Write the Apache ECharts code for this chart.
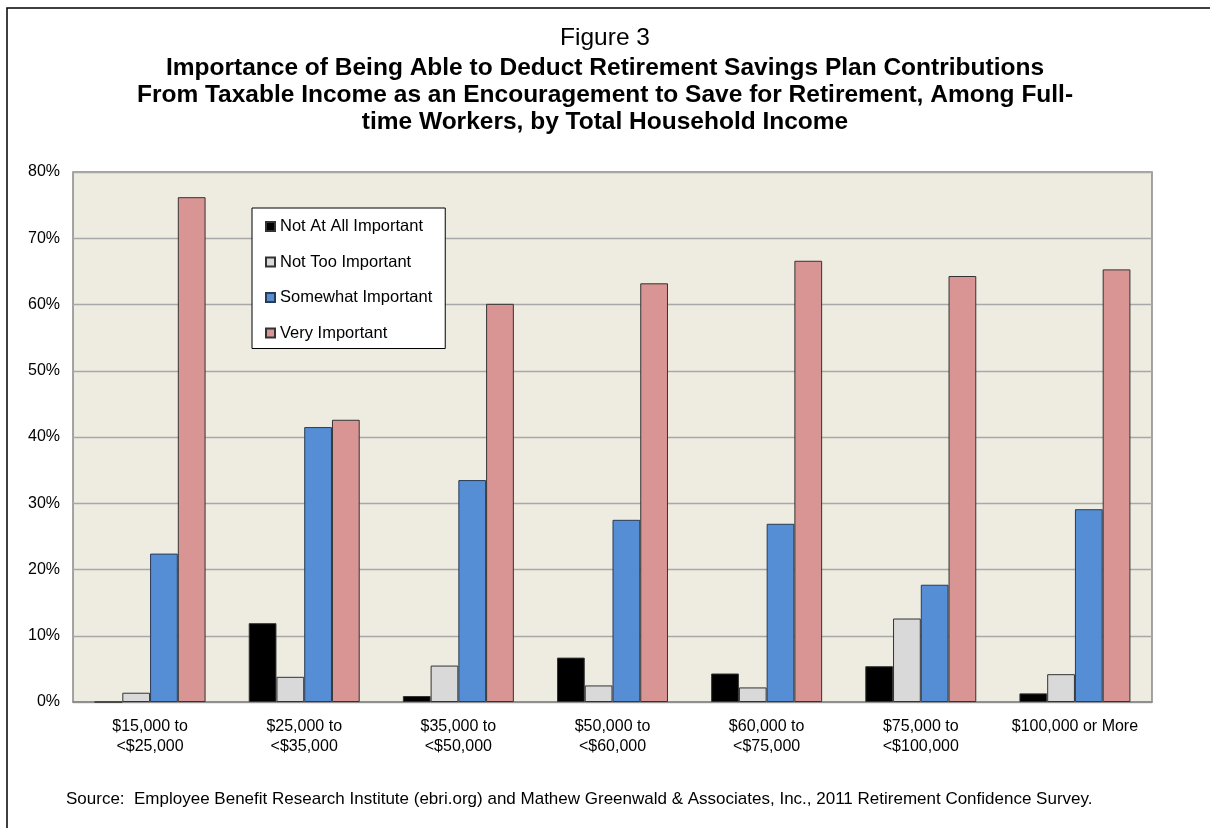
<!DOCTYPE html>
<html><head><meta charset="utf-8">
<script src="https://cdn.jsdelivr.net/npm/echarts@6/dist/echarts.min.js"></script>
<style>html,body{margin:0;padding:0;background:#fff}#c{width:1210px;height:828px}</style>
</head><body><div id="c"></div>
<script>
const categories = ['$15,000 to\n<$25,000','$25,000 to\n<$35,000','$35,000 to\n<$50,000','$50,000 to\n<$60,000','$60,000 to\n<$75,000','$75,000 to\n<$100,000','$100,000 or More'];
const notAtAll = [0, 11.9, 0.9, 6.7, 4.3, 5.4, 1.3];
const notToo = [1.4, 3.8, 5.5, 2.5, 2.2, 12.6, 4.2];
const somewhat = [22.4, 41.5, 33.5, 27.5, 26.9, 17.7, 29.1];
const very = [76.2, 42.6, 60.1, 63.2, 66.6, 64.3, 65.3];
const seriesNames = ['Not At All Important','Not Too Important','Somewhat Important','Very Important'];
const figureLabel = 'Figure 3';
const titleText = 'Importance of Being Able to Deduct Retirement Savings Plan Contributions\nFrom Taxable Income as an Encouragement to Save for Retirement, Among Full-\ntime Workers, by Total Household Income';
const sourceText = 'Source:  Employee Benefit Research Institute (ebri.org) and Mathew Greenwald & Associates, Inc., 2011 Retirement Confidence Survey.';

const font = 'Liberation Sans, Arial, sans-serif';
const chart = echarts.init(document.getElementById('c'), null, {renderer:'canvas'});
function s(name, data, color, border){
  return {name, type:'bar', data, barGap:'0%', barCategoryGap:'28%',
    itemStyle:{color, borderColor:border, borderWidth:1}};
}
chart.setOption({
  animation:false,
  textStyle:{fontFamily:font},
  graphic:[
    {type:'polyline', shape:{points:[[7,830],[7,8],[1212,8]]}, style:{stroke:'#000', lineWidth:1.5, fill:null}},
    {type:'text', x:605, y:26, style:{text:figureLabel, textAlign:'center', fontFamily:font, fontSize:24.5, fill:'#000'}},
    {type:'text', x:605, y:55, style:{text:titleText, textAlign:'center', fontFamily:font, fontSize:24.5, fontWeight:'bold', lineHeight:27, fill:'#000'}},
    {type:'text', x:66, y:791, style:{text:sourceText, fontFamily:font, fontSize:17, fill:'#000'}}
  ],
  grid:{left:73, right:58, top:172, bottom:126, backgroundColor:'#EEEBE0', show:true, borderColor:'#888', borderWidth:1.5},
  legend:{orient:'vertical', left:252, top:208, backgroundColor:'#fff', borderColor:'#000', borderWidth:1,
    padding:[10,13,7,13], icon:'rect', itemWidth:9, itemHeight:9, itemGap:18.5,
    textStyle:{fontFamily:font, fontSize:16.5, color:'#000'},
    data:seriesNames},
  xAxis:{type:'category', data:categories,
    axisLine:{lineStyle:{color:'#888', width:1.5}}, axisTick:{show:false},
    axisLabel:{fontFamily:font, fontSize:16, color:'#000', lineHeight:20, margin:15, interval:0}},
  yAxis:{type:'value', min:0, max:80, interval:10,
    axisLabel:{formatter:'{value}%', fontFamily:font, fontSize:16, color:'#000', margin:13},
    axisLine:{show:false}, axisTick:{show:false},
    splitLine:{lineStyle:{color:'#A8A8A8', width:1.3}}},
  series:[
    s(seriesNames[0], notAtAll, '#000000', '#333'),
    s(seriesNames[1], notToo, '#D9D9D9', '#333'),
    s(seriesNames[2], somewhat, '#558ED5', '#2a3b55'),
    s(seriesNames[3], very, '#D99594', '#333')
  ]
});
</script></body></html>
